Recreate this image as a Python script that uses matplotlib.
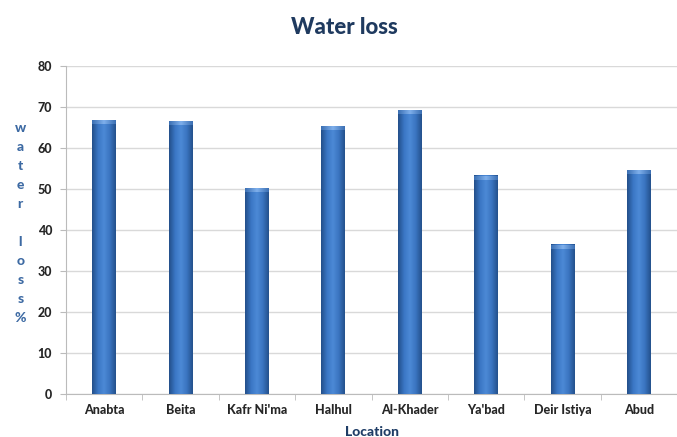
import matplotlib.pyplot as plt
import numpy as np
from matplotlib.colors import LinearSegmentedColormap

locations = ["Anabta", "Beita", "Kafr Ni'ma", "Halhul", "Al-Khader", "Ya'bad", "Deir Istiya", "Abud"]
water_loss = [66.7, 66.4, 50.2, 65.2, 69.2, 53.2, 36.4, 54.5]

plt.rcParams['font.family'] = ['Lato', 'DejaVu Sans']

fig = plt.figure(figsize=(6.77, 4.37), dpi=100)
ax = fig.add_axes([0.0975, 0.098, 0.9025, 0.751])

# cylinder-like shading across each bar
shade = LinearSegmentedColormap.from_list(
    'bar', ['#234f8a', '#3a76c4', '#4c8ad6', '#3a74c0', '#24518c'])
cap = LinearSegmentedColormap.from_list('cap', ['#3b6fb3', '#7fb0ec', '#3b6fb3'])
grad = np.linspace(0, 1, 64).reshape(1, -1)
width = 0.31

x = np.arange(len(locations))
for xi, v in zip(x, water_loss):
    ax.imshow(grad, cmap=shade, aspect='auto', interpolation='bilinear',
              extent=(xi - width / 2, xi + width / 2, 0, v), zorder=3)
    # lighter cap on top
    ax.imshow(grad, cmap=cap, aspect='auto', interpolation='bilinear',
              extent=(xi - width / 2, xi + width / 2, v - 0.9, v), zorder=4)

ax.set_xlim(-0.5, len(locations) - 0.5)
ax.set_ylim(0, 80)
ax.set_yticks(range(0, 81, 10))
ax.set_xticks(x)
ax.set_xticklabels(locations, fontsize=9, fontweight='black', color='#262626')
ax.set_xticks(np.arange(-0.5, len(locations), 1), minor=True)
ax.tick_params(axis='x', which='major', length=0, pad=7)
ax.tick_params(axis='x', which='minor', length=4, color='#bbbbbb', direction='out')
ax.tick_params(axis='y', length=4, color='#bbbbbb', labelsize=9, labelcolor='#262626', pad=6)
for lab in ax.get_yticklabels():
    lab.set_fontweight('black')

ax.yaxis.grid(True, color='#d9d9d9', linewidth=1, zorder=0)
ax.set_axisbelow(True)
for s in ['top', 'right']:
    ax.spines[s].set_visible(False)
ax.spines['left'].set_color('#bbbbbb')
ax.spines['bottom'].set_color('#bbbbbb')

ax.set_xlabel('Location', fontsize=10, fontweight='black', color='#1f3d66', labelpad=7)

# vertical, letter-by-letter axis title
y = 1 - 128 / 437
for ch in 'water loss%':
    if ch != ' ':
        fig.text(0.03, y, ch, ha='center', va='center',
                 fontsize=10, fontweight='black', color='#3d6aa3')
    y -= 19 / 437

fig.text(0.508, 0.937, 'Water loss', ha='center', va='center',
         fontsize=16, fontweight='black', color='#1f3a5f')

fig.savefig('out.png', dpi=100)
